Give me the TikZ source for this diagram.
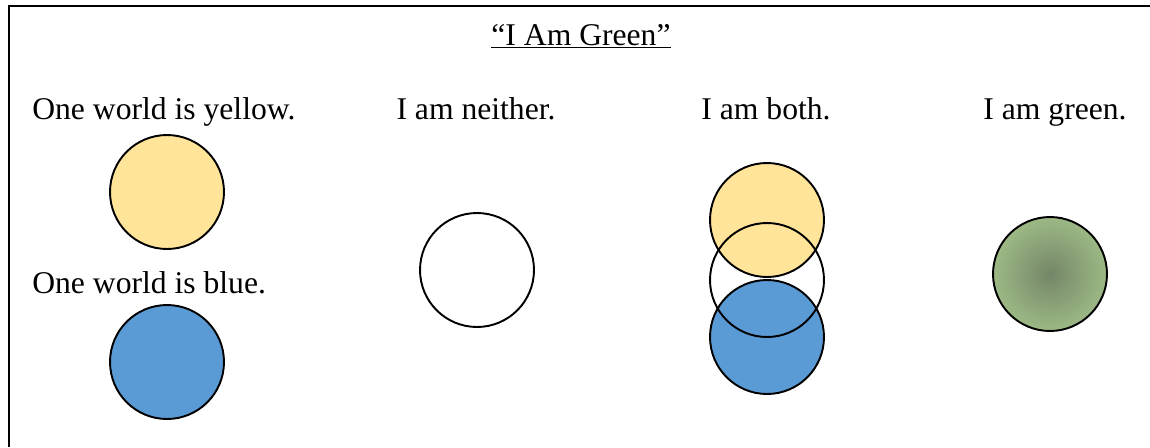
\documentclass[tikz,border=0pt]{standalone}
\usepackage{fontspec}
\setmainfont{Liberation Serif}
\usetikzlibrary{positioning}
\definecolor{worldyellow}{RGB}{255,228,153}
\definecolor{worldblue}{RGB}{91,155,213}
\definecolor{greenout}{RGB}{168,199,141}
\definecolor{greenin}{RGB}{116,134,104}
\pgfdeclareradialshading{greenglow}{\pgfpoint{0bp}{0bp}}{color(0bp)=(greenin); color(32bp)=(greenout); color(50bp)=(greenout)}

\begin{document}
\begin{tikzpicture}[x=0.02cm,y=-0.02cm,
  world/.style={circle,draw,line width=1.1pt,minimum size=2.28cm,inner sep=0pt},
  saytext/.style={font=\fontsize{18}{22}\selectfont,inner sep=0pt}]
\useasboundingbox (0,0) rectangle (1150,447);
\draw[line width=1.2pt] (9,447) -- (9,6) -- (1150,6);

\node[saytext,anchor=base] (title) at (581,45) {\underline{``I Am Green''}};

% the two worlds
\node[saytext,anchor=base west] (yellowsay) at (32,119) {One world is yellow.};
\node[world,fill=worldyellow] (yellowworld) at (167,192) {};
\node[saytext,anchor=base west] (bluesay) at (32,293) {One world is blue.};
\node[world,fill=worldblue] (blueworld) at (167,362) {};

% neither
\node[saytext,anchor=base] (neithersay) at (476,119) {I am neither.};
\node[world] (neitherworld) at (477,270) {};

% both
\node[saytext,anchor=base] (bothsay) at (766,119) {I am both.};
\node[world,fill=worldyellow] (bothyellow) at (767,220) {};
\node[world,fill=worldblue] (bothblue) at (767,337) {};
\node[world] (bothring) at (767,280) {};

% green
\node[saytext,anchor=base] (greensay) at (1055,119) {I am green.};
\node[world,shading=greenglow] (greenworld) at (1050,274) {};
\end{tikzpicture}
\end{document}
